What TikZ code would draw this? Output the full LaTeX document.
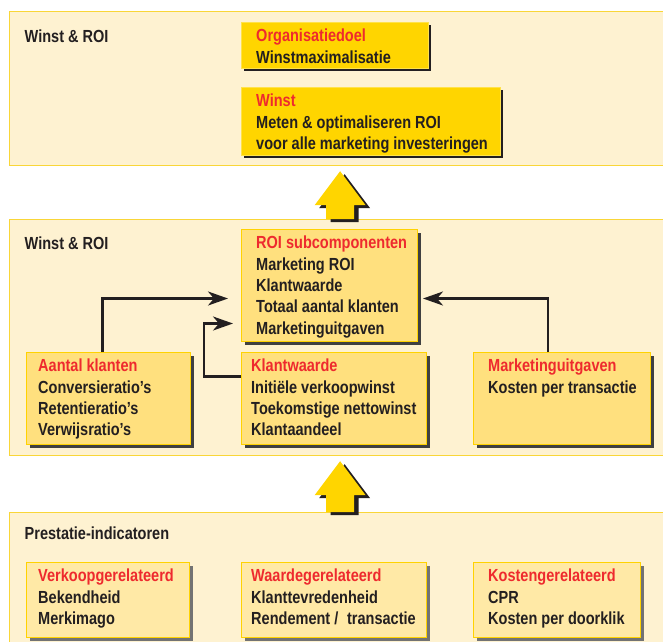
\documentclass[tikz,border=0pt]{standalone}
\usepackage{fontspec}
\setmainfont{Liberation Sans}[FakeStretch=0.83]
\usetikzlibrary{arrows.meta,shadows,calc}

\definecolor{paneltint}{HTML}{FEF2D1}
\definecolor{panelline}{HTML}{F9D638}
\definecolor{goldcard}{HTML}{FFD500}
\definecolor{goldline}{HTML}{FFE24A}
\definecolor{midcard}{HTML}{FFE07E}
\definecolor{lowcard}{HTML}{FFE9A6}
\definecolor{cardline}{HTML}{FFD200}
\definecolor{titlered}{HTML}{EE2A2E}
\definecolor{inkdark}{HTML}{231F20}

\newcommand{\cardfont}{\fontsize{17.5}{21.3}\selectfont\bfseries}
\newcommand{\headline}[1]{\textcolor{titlered}{#1}}

\tikzset{
  panel/.style={draw=panelline, line width=1.2pt, fill=paneltint, anchor=north west,
    inner sep=0pt, minimum width=661},
  cardtext/.style={anchor=north west, align=left, inner sep=0pt, font=\cardfont, text=inkdark},
  goldbox/.style={draw=goldline, line width=0.8pt, fill=goldcard, anchor=north west, inner sep=0pt,
    drop shadow={shadow xshift=2.5pt, shadow yshift=-2.5pt, fill=inkdark, opacity=1}},
  midbox/.style={draw=cardline, line width=1pt, fill=midcard, anchor=north west, inner sep=0pt,
    drop shadow={shadow xshift=3pt, shadow yshift=-3pt, fill=black!75, opacity=1}},
  lowbox/.style={draw=cardline, line width=1pt, fill=lowcard, anchor=north west, inner sep=0pt,
    drop shadow={shadow xshift=3pt, shadow yshift=-3pt, fill=black!55, opacity=1}},
  blockarrow/.style={fill=goldcard,
    drop shadow={shadow xshift=4.5pt, shadow yshift=-3pt, fill=inkdark, opacity=1}},
  conn/.style={draw=inkdark, line width=2.4pt, -{Stealth[length=20pt,width=14pt,inset=6pt]}}
}

\begin{document}
\begin{tikzpicture}[x=1pt,y=-1pt]
  \useasboundingbox (0,0) rectangle (663,641);

  \node[panel, minimum height=154, label={[cardtext, xshift=15.5, yshift=-19]north west:Winst \& ROI}] (top) at (9,11) {};
  \node[panel, minimum height=236, label={[cardtext, xshift=15.5, yshift=-18]north west:Winst \& ROI}] (mid) at (9,219) {};
  \node[panel, minimum height=150, label={[cardtext, xshift=15.5, yshift=-15]north west:Prestatie-indicatoren}] (low) at (9,512) {};

  \foreach \upper/\lower in {top/mid, mid/low}
    \fill[blockarrow] ($(\upper.south)+(0,5)$) -- ($(\upper.south)+(25.5,39)$) -- ($(\upper.south)+(14,39)$)
      -- ($(\lower.north)+(14,0)$) -- ($(\lower.north)+(-14,0)$) -- ($(\upper.south)+(-14,39)$)
      -- ($(\upper.south)+(-25.5,39)$) -- cycle;

  \node[goldbox, minimum width=187, minimum height=46,
    label={[cardtext, xshift=15, yshift=-7]north west:\headline{Organisatiedoel}\\Winstmaximalisatie}] (doel) at (241,22) {};
  \node[goldbox, minimum width=259, minimum height=68,
    label={[cardtext, xshift=15, yshift=-7]north west:\headline{Winst}\\Meten \& optimaliseren ROI\\voor alle marketing investeringen}] (winst) at (241,87) {};

  \node[midbox, minimum width=176, minimum height=112,
    label={[cardtext, xshift=15, yshift=-7]north west:\headline{ROI subcomponenten}\\Marketing ROI\\Klantwaarde\\Totaal aantal klanten\\Marketinguitgaven}] (roi) at (241,229) {};
  \node[midbox, minimum width=164, minimum height=92,
    label={[cardtext, xshift=12, yshift=-7]north west:\headline{Aantal klanten}\\Conversieratio’s\\Retentieratio’s\\Verwijsratio’s}] (aantal) at (26,352) {};
  \node[midbox, minimum width=185, minimum height=92,
    label={[cardtext, xshift=10, yshift=-7]north west:\headline{Klantwaarde}\\Initiële verkoopwinst\\Toekomstige nettowinst\\Klantaandeel}] (klant) at (241,352) {};
  \node[midbox, minimum width=177, minimum height=92,
    label={[cardtext, xshift=15, yshift=-7]north west:\headline{Marketinguitgaven}\\Kosten per transactie}] (uitgaven) at (473,352) {};

  \node[lowbox, minimum width=163, minimum height=75,
    label={[cardtext, xshift=12, yshift=-7]north west:\headline{Verkoopgerelateerd}\\Bekendheid\\Merkimago}] (verkoop) at (26,562) {};
  \node[lowbox, minimum width=185, minimum height=75,
    label={[cardtext, xshift=10, yshift=-7]north west:\headline{Waardegerelateerd}\\Klanttevredenheid\\Rendement /\enspace transactie}] (waarde) at (241,562) {};
  \node[lowbox, minimum width=167, minimum height=75,
    label={[cardtext, xshift=15, yshift=-7]north west:\headline{Kostengerelateerd}\\CPR\\Kosten per doorklik}] (kosten) at (473,562) {};

  \draw[conn] ([xshift=-6pt]aantal.north) |- ([xshift=-13pt,yshift=-13pt]roi.west);
  \draw[conn] ([yshift=22pt]klant.west) -- ++(-37,0) |- ([xshift=-8pt,yshift=-38pt]roi.west);
  \draw[conn] ([xshift=-14pt]uitgaven.north) |- ([xshift=5pt,yshift=-13pt]roi.east);
\end{tikzpicture}
\end{document}
